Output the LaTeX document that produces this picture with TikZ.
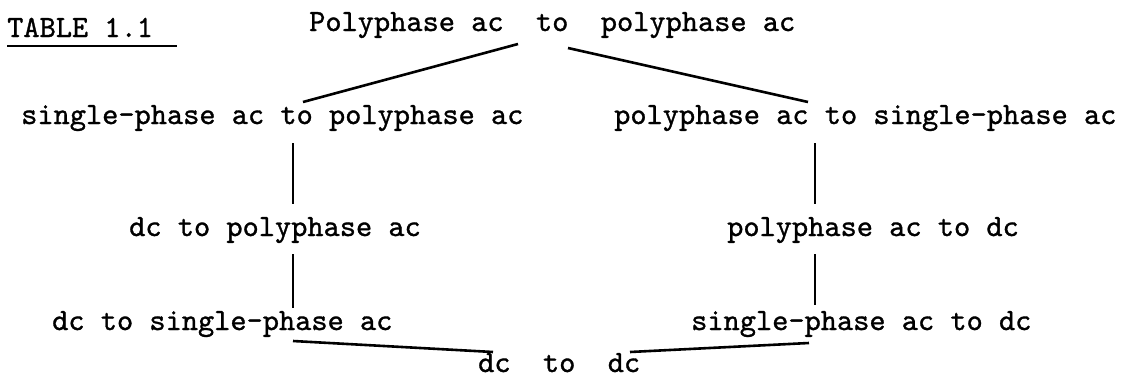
\documentclass[tikz,border=0pt]{standalone}
\usepackage{fontspec}
\newfontfamily\tw{lmmono10-regular}[Extension=.otf, FakeBold=1]
\begin{document}
\begin{tikzpicture}[x=1pt,y=-1pt,
  conn/.style={line width=2.6pt},
  lbl/.style={anchor=base west, inner sep=0pt, font=\fontsize{30.86}{36}\selectfont\tw}]
\useasboundingbox (0,0) rectangle (1130,378);
\fill[white] (0,0) rectangle (1130,378);
% texts
\node[lbl] (title) at (7,37) {TABLE 1.1};
\node[lbl] (top) at (309,31) {Polyphase ac\ \ to\ \ polyphase ac};
\node[lbl] (l2) at (21,124) {single-phase ac to polyphase ac};
\node[lbl] (r2) at (614,124) {polyphase ac to single-phase ac};
\node[lbl] (l3) at (129,236) {dc to polyphase ac};
\node[lbl] (r3) at (727,236) {polyphase ac to dc};
\node[lbl] (l4) at (52,330) {dc to single-phase ac};
\node[lbl] (r4) at (691,330) {single-phase ac to dc};
\node[lbl] (bot) at (478,372) {dc\ \ to\ \ dc};
% endpoint coordinates
\coordinate (topL) at (518,44);
\coordinate (topR) at (568,48);
\coordinate (l2top) at (303,102);
\coordinate (r2top) at (808,102);
\coordinate (l2b) at (293,143);
\coordinate (l3t) at (293,204);
\coordinate (l3b) at (293,254);
\coordinate (l4t) at (293,308);
\coordinate (r2b) at (815,143);
\coordinate (r3t) at (815,204);
\coordinate (r3b) at (815,254);
\coordinate (r4t) at (815,305);
\coordinate (l4b) at (293,341);
\coordinate (r4b) at (809,343);
\coordinate (botL) at (493,352);
\coordinate (botR) at (630,352);
% underline
\draw[line width=1.8pt] (7,46) -- (177,46);
% connectors
\draw[conn] (topL) -- (l2top);
\draw[conn] (topR) -- (r2top);
\draw[conn] (l2b) -- (l3t);
\draw[conn] (l3b) -- (l4t);
\draw[conn] (r2b) -- (r3t);
\draw[conn] (r3b) -- (r4t);
\draw[conn] (l4b) -- (botL);
\draw[conn] (r4b) -- (botR);
\end{tikzpicture}
\end{document}
